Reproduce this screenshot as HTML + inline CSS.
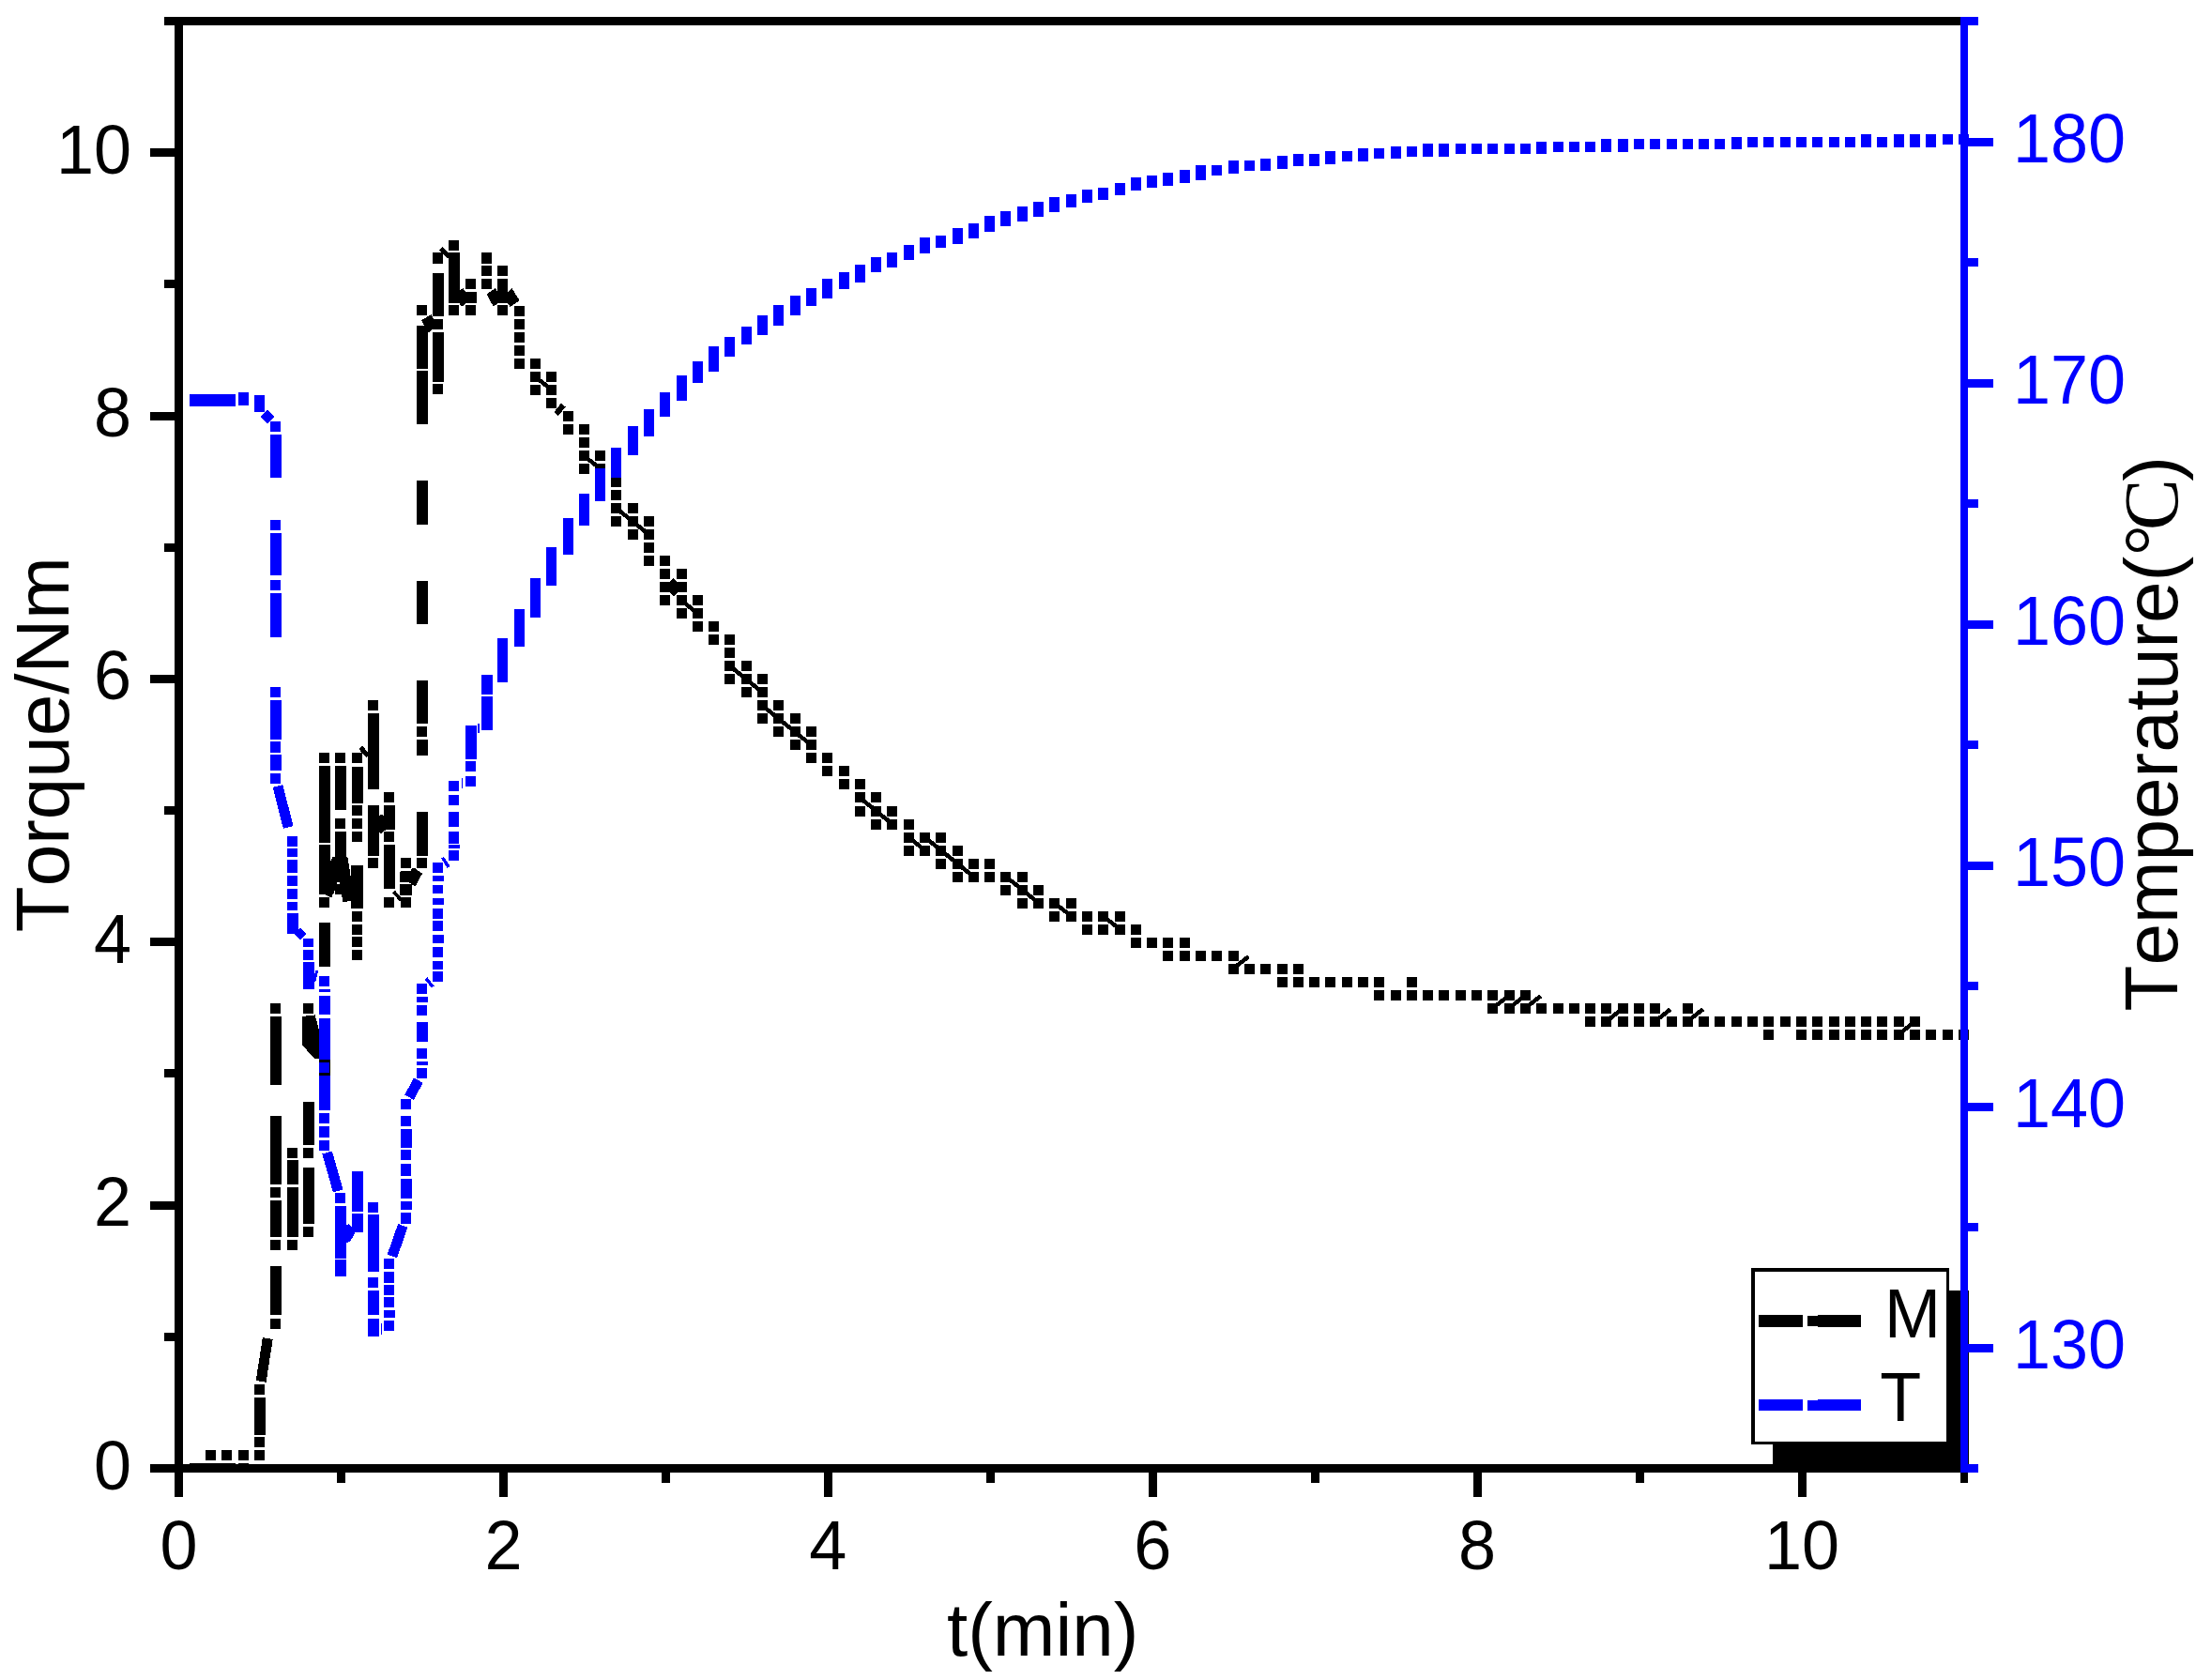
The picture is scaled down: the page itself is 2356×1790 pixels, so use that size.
<!DOCTYPE html>
<html lang="en"><head><meta charset="utf-8"><title>Torque and temperature vs time</title>
<style>html,body{margin:0;padding:0;background:#fff}svg{display:block}text{font-kerning:none}</style></head>
<body>
<svg width="2356" height="1790" viewBox="0 0 2356 1790" shape-rendering="crispEdges">
<rect width="2356" height="1790" fill="#fff"/>
<g id="axes-black"><rect x="175" y="18" width="1918" height="9" fill="#000"/><rect x="186" y="18" width="9" height="1577" fill="#000"/><rect x="160" y="1560" width="1937" height="9" fill="#000"/><rect x="175" y="1420" width="11" height="9" fill="#000"/><rect x="160" y="1280" width="26" height="9" fill="#000"/><rect x="175" y="1139" width="11" height="9" fill="#000"/><rect x="160" y="999" width="26" height="9" fill="#000"/><rect x="175" y="859" width="11" height="9" fill="#000"/><rect x="160" y="719" width="26" height="9" fill="#000"/><rect x="175" y="579" width="11" height="9" fill="#000"/><rect x="160" y="439" width="26" height="9" fill="#000"/><rect x="175" y="298" width="11" height="9" fill="#000"/><rect x="160" y="158" width="26" height="9" fill="#000"/><rect x="359" y="1569" width="9" height="11" fill="#000"/><rect x="532" y="1569" width="9" height="26" fill="#000"/><rect x="705" y="1569" width="9" height="11" fill="#000"/><rect x="878" y="1569" width="9" height="26" fill="#000"/><rect x="1051" y="1569" width="9" height="11" fill="#000"/><rect x="1224" y="1569" width="9" height="26" fill="#000"/><rect x="1397" y="1569" width="9" height="11" fill="#000"/><rect x="1570" y="1569" width="9" height="26" fill="#000"/><rect x="1743" y="1569" width="9" height="11" fill="#000"/><rect x="1916" y="1569" width="9" height="26" fill="#000"/><rect x="2089" y="1569" width="8" height="11" fill="#000"/></g>
<g id="curve-torque" fill="#000" color="#000"><rect x="202" y="1559" width="49" height="10"/><rect x="254" y="1559" width="11" height="10"/><rect x="219" y="1545" width="11" height="11"/><rect x="236" y="1545" width="11" height="11"/><rect x="254" y="1545" width="11" height="11"/><rect x="271" y="1545" width="11" height="11"/><rect x="271" y="1531" width="11" height="11"/><rect x="271" y="1489" width="12" height="40"/><rect x="271" y="1475" width="11" height="11"/><line x1="278.1" y1="1471.9" x2="285.3" y2="1426.1" stroke="currentColor" stroke-width="11"/><rect x="288" y="1265" width="11" height="11"/><rect x="288" y="1279" width="12" height="39"/><rect x="288" y="1321" width="11" height="11"/><rect x="288" y="1349" width="12" height="52"/><rect x="288" y="1405" width="11" height="11"/><rect x="306" y="1223" width="11" height="11"/><rect x="306" y="1236" width="12" height="26"/><rect x="306" y="1265" width="12" height="53"/><rect x="306" y="1321" width="11" height="11"/><rect x="323" y="1223" width="11" height="11"/><rect x="323" y="1244" width="12" height="60"/><rect x="323" y="1307" width="11" height="11"/><rect x="288" y="1069" width="11" height="11"/><rect x="288" y="1083" width="12" height="73"/><rect x="288" y="1189" width="12" height="73"/><rect x="323" y="1069" width="11" height="11"/><rect x="323" y="1174" width="12" height="46"/><polygon points="322,1082.9 335.6,1081.4 340.1,1097.7 340.1,1128.4 335.6,1128.4 322,1113.6"/><rect x="340" y="1087" width="12" height="63"/><rect x="340" y="983" width="12" height="47"/><rect x="375" y="1012" width="11" height="11"/><rect x="340" y="802" width="11" height="11"/><rect x="340" y="816" width="12" height="82"/><rect x="340" y="900" width="12" height="53"/><rect x="340" y="956" width="11" height="11"/><rect x="357" y="802" width="11" height="11"/><rect x="357" y="816" width="12" height="47"/><rect x="357" y="872" width="11" height="11"/><rect x="357" y="886" width="12" height="67"/><rect x="375" y="802" width="11" height="11"/><rect x="375" y="817" width="12" height="39"/><rect x="375" y="858" width="11" height="11"/><rect x="375" y="872" width="11" height="11"/><rect x="375" y="886" width="11" height="11"/><rect x="375" y="922" width="12" height="45"/><rect x="375" y="971" width="11" height="11"/><rect x="375" y="985" width="11" height="11"/><rect x="375" y="998" width="11" height="11"/><rect x="392" y="746" width="11" height="11"/><rect x="392" y="760" width="12" height="81"/><rect x="392" y="858" width="12" height="54"/><rect x="392" y="914" width="11" height="11"/><rect x="409" y="844" width="11" height="11"/><rect x="409" y="858" width="12" height="26"/><rect x="409" y="886" width="11" height="11"/><rect x="409" y="900" width="12" height="47"/><rect x="409" y="956" width="11" height="11"/><rect x="427" y="914" width="11" height="11"/><rect x="427" y="928" width="11" height="12"/><rect x="427" y="942" width="11" height="11"/><rect x="427" y="956" width="11" height="11"/><rect x="444" y="788" width="12" height="17"/><rect x="444" y="865" width="12" height="47"/><rect x="444" y="914" width="11" height="11"/><polygon points="351.4,919 353.2,915.7 354.1,913 369,912.4 370.8,914.2 371.1,919.9 372,920.5 372.6,927 373.2,927.6 373.3,933 374.3,933 374.3,959.8 370.2,959.8 369.9,960.8 365.1,960.8 365.1,956.2 364.2,955.9 363.9,952.9 357.1,952.9 357.1,949 356.2,948.8 355.9,951.4 355,952 353.8,955.6 352.3,956.1 345.8,952.9 351.4,952.9"/><rect x="374" y="922" width="13" height="46"/><polygon points="403.5,864.7 404,865.3 404,869.2 405.3,868 407.7,868 409,869.2 409.5,869.2 409.5,883.9 411,884.3 409,885.8 406.8,887.6 405.6,887.9 404,887 403.5,887"/><polygon points="426.1,929 427.1,928.1 438,928.1 438,926.4 439.3,925.2 441.9,925 450,930.7 442.9,943.8 441,943.8 438.1,941.9 435.7,939.8 426.1,939.8"/><rect x="426" y="942" width="13" height="12"/><line x1="384.2" y1="796.4" x2="392.3" y2="805.5" stroke="currentColor" stroke-width="5"/><line x1="419.4" y1="950.1" x2="427.6" y2="959" stroke="currentColor" stroke-width="4"/><rect x="444" y="725" width="12" height="46"/><rect x="444" y="774" width="11" height="11"/><rect x="444" y="512" width="12" height="47"/><rect x="444" y="619" width="12" height="46"/><rect x="444" y="395" width="12" height="57"/><rect x="444" y="325" width="11" height="11"/><rect x="444" y="347" width="12" height="46"/><rect x="461" y="269" width="11" height="12"/><rect x="461" y="291" width="12" height="46"/><rect x="461" y="340" width="11" height="11"/><rect x="461" y="354" width="12" height="53"/><rect x="461" y="409" width="11" height="11"/><rect x="478" y="256" width="11" height="11"/><rect x="478" y="269" width="12" height="54"/><rect x="478" y="325" width="11" height="11"/><rect x="496" y="297" width="11" height="11"/><rect x="496" y="311" width="11" height="12"/><rect x="496" y="325" width="11" height="11"/><rect x="513" y="269" width="11" height="12"/><rect x="513" y="283" width="11" height="11"/><rect x="513" y="297" width="11" height="11"/><rect x="530" y="283" width="11" height="11"/><rect x="530" y="297" width="11" height="14"/><rect x="530" y="311" width="11" height="12"/><rect x="530" y="325" width="11" height="11"/><polygon points="449.2,341.1 459.4,335 462.1,339.8 461.4,350.6 456,354.7 454.9,346.9 451.9,346.9"/><line x1="469.8" y1="264.9" x2="478.6" y2="273.7" stroke="currentColor" stroke-width="5"/><polygon points="489.2,309.9 493.3,307.2 496.7,311.3 507.5,311.3 507.5,322.8 496.7,322.8 491.9,326.9 489.2,322.8"/><polygon points="518.4,313.3 527.9,307.2 530.6,311.3 541.5,311.3 545.5,307.2 553.7,320.1 543.5,326.9 540.8,322.8 530.6,322.8 525.9,326.9"/><rect x="548" y="326" width="11" height="11"/><rect x="548" y="340" width="11" height="11"/><rect x="548" y="354" width="11" height="11"/><rect x="548" y="368" width="11" height="11"/><rect x="548" y="382" width="11" height="11"/><rect x="565" y="382" width="11" height="11"/><rect x="565" y="396" width="11" height="11"/><rect x="565" y="410" width="11" height="11"/><rect x="582" y="396" width="11" height="11"/><rect x="582" y="410" width="11" height="11"/><rect x="582" y="424" width="11" height="11"/><rect x="600" y="438" width="11" height="11"/><rect x="600" y="452" width="11" height="11"/><rect x="617" y="452" width="11" height="11"/><rect x="617" y="466" width="11" height="11"/><rect x="617" y="480" width="11" height="11"/><rect x="617" y="494" width="11" height="11"/><rect x="634" y="480" width="11" height="11"/><rect x="634" y="494" width="11" height="11"/><rect x="651" y="508" width="11" height="11"/><rect x="651" y="522" width="11" height="11"/><rect x="651" y="536" width="11" height="11"/><rect x="651" y="550" width="11" height="11"/><rect x="669" y="536" width="11" height="11"/><rect x="669" y="550" width="11" height="11"/><rect x="669" y="564" width="11" height="11"/><rect x="686" y="550" width="11" height="11"/><rect x="686" y="564" width="11" height="11"/><rect x="686" y="578" width="11" height="11"/><rect x="686" y="592" width="11" height="11"/><rect x="703" y="592" width="11" height="11"/><rect x="703" y="606" width="11" height="11"/><rect x="703" y="620" width="11" height="11"/><rect x="703" y="634" width="11" height="11"/><rect x="721" y="606" width="11" height="11"/><rect x="721" y="620" width="11" height="11"/><rect x="721" y="634" width="11" height="11"/><rect x="721" y="648" width="11" height="11"/><rect x="738" y="634" width="11" height="11"/><rect x="738" y="648" width="11" height="11"/><rect x="738" y="662" width="11" height="11"/><rect x="755" y="662" width="11" height="11"/><rect x="755" y="676" width="11" height="11"/><rect x="772" y="676" width="11" height="11"/><rect x="772" y="690" width="11" height="11"/><rect x="772" y="704" width="11" height="11"/><rect x="772" y="718" width="11" height="11"/><rect x="790" y="704" width="11" height="11"/><rect x="790" y="718" width="11" height="11"/><rect x="790" y="732" width="11" height="11"/><rect x="807" y="718" width="11" height="11"/><rect x="807" y="732" width="11" height="11"/><rect x="807" y="746" width="11" height="11"/><rect x="807" y="760" width="11" height="11"/><rect x="824" y="746" width="11" height="11"/><rect x="824" y="760" width="11" height="11"/><rect x="824" y="774" width="11" height="11"/><rect x="842" y="760" width="11" height="11"/><rect x="842" y="774" width="11" height="11"/><rect x="842" y="788" width="11" height="11"/><rect x="859" y="774" width="11" height="11"/><rect x="859" y="788" width="11" height="11"/><rect x="859" y="802" width="11" height="11"/><rect x="876" y="802" width="11" height="11"/><rect x="876" y="816" width="11" height="11"/><rect x="894" y="816" width="11" height="11"/><rect x="894" y="830" width="11" height="11"/><rect x="911" y="830" width="11" height="11"/><rect x="911" y="844" width="11" height="11"/><rect x="911" y="859" width="11" height="11"/><rect x="928" y="844" width="11" height="11"/><rect x="928" y="859" width="11" height="11"/><rect x="928" y="873" width="11" height="11"/><rect x="945" y="859" width="11" height="11"/><rect x="945" y="873" width="11" height="11"/><rect x="963" y="873" width="11" height="11"/><rect x="963" y="887" width="11" height="11"/><rect x="963" y="901" width="11" height="11"/><rect x="980" y="887" width="11" height="11"/><rect x="980" y="901" width="11" height="11"/><rect x="997" y="887" width="11" height="11"/><rect x="997" y="901" width="11" height="11"/><rect x="997" y="915" width="11" height="11"/><rect x="1015" y="901" width="11" height="11"/><rect x="1015" y="915" width="11" height="11"/><rect x="1015" y="929" width="11" height="11"/><rect x="1032" y="915" width="11" height="11"/><rect x="1032" y="929" width="11" height="11"/><rect x="1049" y="915" width="11" height="11"/><rect x="1049" y="929" width="11" height="11"/><rect x="1066" y="929" width="11" height="11"/><rect x="1066" y="943" width="11" height="11"/><rect x="1084" y="929" width="11" height="11"/><rect x="1084" y="943" width="11" height="11"/><rect x="1084" y="957" width="11" height="11"/><rect x="1101" y="943" width="11" height="11"/><rect x="1101" y="957" width="11" height="11"/><rect x="1118" y="957" width="11" height="11"/><rect x="1118" y="971" width="11" height="11"/><rect x="1136" y="957" width="11" height="11"/><rect x="1136" y="971" width="11" height="11"/><rect x="1153" y="971" width="11" height="11"/><rect x="1153" y="985" width="11" height="11"/><rect x="1170" y="971" width="11" height="11"/><rect x="1170" y="985" width="11" height="11"/><rect x="1188" y="971" width="11" height="11"/><rect x="1188" y="985" width="11" height="11"/><rect x="1205" y="985" width="11" height="11"/><rect x="1205" y="999" width="11" height="11"/><rect x="1222" y="999" width="11" height="11"/><rect x="1239" y="999" width="11" height="11"/><rect x="1239" y="1013" width="11" height="11"/><rect x="1257" y="999" width="11" height="11"/><rect x="1257" y="1013" width="11" height="11"/><rect x="1274" y="1013" width="11" height="11"/><rect x="1291" y="1013" width="11" height="11"/><rect x="1309" y="1013" width="11" height="11"/><rect x="1309" y="1027" width="11" height="11"/><rect x="1326" y="1027" width="11" height="11"/><rect x="1343" y="1027" width="11" height="11"/><rect x="1361" y="1027" width="11" height="11"/><rect x="1361" y="1041" width="11" height="11"/><rect x="1378" y="1027" width="11" height="11"/><rect x="1378" y="1041" width="11" height="11"/><rect x="1395" y="1041" width="11" height="11"/><rect x="1412" y="1041" width="11" height="11"/><rect x="1430" y="1041" width="11" height="11"/><rect x="1447" y="1041" width="11" height="11"/><rect x="1464" y="1041" width="11" height="11"/><rect x="1464" y="1055" width="11" height="11"/><rect x="1482" y="1055" width="11" height="11"/><rect x="1499" y="1041" width="11" height="11"/><rect x="1499" y="1055" width="11" height="11"/><rect x="1516" y="1055" width="11" height="11"/><rect x="1533" y="1055" width="11" height="11"/><rect x="1551" y="1055" width="11" height="11"/><rect x="1568" y="1055" width="11" height="11"/><rect x="1585" y="1055" width="11" height="11"/><rect x="1585" y="1069" width="11" height="11"/><rect x="1603" y="1055" width="11" height="11"/><rect x="1603" y="1069" width="11" height="11"/><rect x="1620" y="1055" width="11" height="11"/><rect x="1620" y="1069" width="11" height="11"/><rect x="1637" y="1069" width="11" height="11"/><rect x="1655" y="1069" width="11" height="11"/><rect x="1672" y="1069" width="11" height="11"/><rect x="1689" y="1069" width="11" height="11"/><rect x="1689" y="1083" width="11" height="11"/><rect x="1706" y="1069" width="11" height="11"/><rect x="1706" y="1083" width="11" height="11"/><rect x="1724" y="1069" width="11" height="11"/><rect x="1724" y="1083" width="11" height="11"/><rect x="1741" y="1069" width="11" height="11"/><rect x="1741" y="1083" width="11" height="11"/><rect x="1758" y="1069" width="11" height="11"/><rect x="1758" y="1083" width="11" height="11"/><rect x="1776" y="1083" width="11" height="11"/><rect x="1793" y="1069" width="11" height="11"/><rect x="1793" y="1083" width="11" height="11"/><rect x="1810" y="1083" width="11" height="11"/><rect x="1827" y="1083" width="11" height="11"/><rect x="1845" y="1083" width="11" height="11"/><rect x="1862" y="1083" width="11" height="11"/><rect x="1879" y="1083" width="11" height="11"/><rect x="1879" y="1097" width="11" height="11"/><rect x="1897" y="1083" width="11" height="11"/><rect x="1914" y="1083" width="11" height="11"/><rect x="1914" y="1097" width="11" height="11"/><rect x="1931" y="1083" width="11" height="11"/><rect x="1931" y="1097" width="11" height="11"/><rect x="1949" y="1083" width="11" height="11"/><rect x="1949" y="1097" width="11" height="11"/><rect x="1966" y="1083" width="11" height="11"/><rect x="1966" y="1097" width="11" height="11"/><rect x="1983" y="1083" width="11" height="11"/><rect x="1983" y="1097" width="11" height="11"/><rect x="2000" y="1083" width="11" height="11"/><rect x="2000" y="1097" width="11" height="11"/><rect x="2018" y="1083" width="11" height="11"/><rect x="2018" y="1097" width="11" height="11"/><rect x="2035" y="1083" width="11" height="11"/><rect x="2035" y="1097" width="11" height="11"/><rect x="2052" y="1097" width="11" height="11"/><rect x="2070" y="1097" width="11" height="11"/><rect x="2087" y="1097" width="11" height="11"/><line x1="571.4" y1="402.4" x2="586.7" y2="414.4" stroke="currentColor" stroke-width="4.5"/><line x1="623.3" y1="486.5" x2="638.6" y2="498.5" stroke="currentColor" stroke-width="4.5"/><line x1="657.9" y1="542.6" x2="673.2" y2="554.6" stroke="currentColor" stroke-width="4.5"/><line x1="675.2" y1="556.6" x2="690.5" y2="568.6" stroke="currentColor" stroke-width="4.5"/><line x1="727.1" y1="640.7" x2="742.4" y2="652.7" stroke="currentColor" stroke-width="4.5"/><line x1="779" y1="710.8" x2="794.3" y2="722.8" stroke="currentColor" stroke-width="4.5"/><line x1="796.3" y1="724.8" x2="811.6" y2="736.8" stroke="currentColor" stroke-width="4.5"/><line x1="813.6" y1="752.9" x2="828.9" y2="764.9" stroke="currentColor" stroke-width="4.5"/><line x1="830.9" y1="766.9" x2="846.2" y2="778.9" stroke="currentColor" stroke-width="4.5"/><line x1="848.2" y1="780.9" x2="863.5" y2="792.9" stroke="currentColor" stroke-width="4.5"/><line x1="917.3" y1="851" x2="932.6" y2="863" stroke="currentColor" stroke-width="4.5"/><line x1="934.6" y1="865" x2="949.9" y2="877" stroke="currentColor" stroke-width="4.5"/><line x1="969.2" y1="893" x2="984.5" y2="905.1" stroke="currentColor" stroke-width="4.5"/><line x1="986.5" y1="893" x2="1001.8" y2="905.1" stroke="currentColor" stroke-width="4.5"/><line x1="1003.8" y1="907.1" x2="1019.1" y2="919.1" stroke="currentColor" stroke-width="4.5"/><line x1="1021.1" y1="921.1" x2="1036.4" y2="933.1" stroke="currentColor" stroke-width="4.5"/><line x1="1073" y1="935.1" x2="1088.3" y2="947.1" stroke="currentColor" stroke-width="4.5"/><line x1="1090.3" y1="949.1" x2="1105.6" y2="961.1" stroke="currentColor" stroke-width="4.5"/><line x1="1124.9" y1="963.1" x2="1140.2" y2="975.1" stroke="currentColor" stroke-width="4.5"/><line x1="1176.8" y1="977.1" x2="1192.1" y2="989.2" stroke="currentColor" stroke-width="4.5"/><line x1="1591.8" y1="1073.3" x2="1607.1" y2="1061.3" stroke="currentColor" stroke-width="4.5"/><line x1="1609.1" y1="1073.3" x2="1624.4" y2="1061.3" stroke="currentColor" stroke-width="4.5"/><line x1="1626.4" y1="1073.3" x2="1641.7" y2="1061.3" stroke="currentColor" stroke-width="4.5"/><line x1="1712.9" y1="1087.3" x2="1728.2" y2="1075.3" stroke="currentColor" stroke-width="4.5"/><line x1="1764.8" y1="1087.3" x2="1780.1" y2="1075.3" stroke="currentColor" stroke-width="4.5"/><line x1="1799.4" y1="1087.3" x2="1814.7" y2="1075.3" stroke="currentColor" stroke-width="4.5"/><line x1="2024.2" y1="1101.3" x2="2039.5" y2="1089.3" stroke="currentColor" stroke-width="4.5"/><line x1="1315.1" y1="1031.2" x2="1330.4" y2="1019.2" stroke="currentColor" stroke-width="4.5"/><line x1="600.2" y1="431.6" x2="592.6" y2="441.1" stroke="currentColor" stroke-width="6"/><polygon points="712.9,620.6 717.4,616.1 722.8,620.6 722.8,630.6 718.3,635.5 712.9,630.6"/><rect x="359" y="940" width="3" height="2" fill="#fff"/></g>
<g id="curve-temperature" fill="#00f" color="#00f"><rect x="202" y="420" width="49" height="13"/><rect x="254" y="418" width="11" height="14"/><rect x="271" y="421" width="11" height="18"/><polygon points="285.3,436.5 293,444 285.3,451.5 277.6,444"/><rect x="288" y="449" width="11" height="11"/><rect x="288" y="463" width="12" height="46"/><rect x="288" y="554" width="11" height="11"/><rect x="288" y="568" width="12" height="45"/><rect x="288" y="618" width="11" height="11"/><rect x="288" y="632" width="12" height="47"/><rect x="288" y="732" width="11" height="11"/><rect x="288" y="746" width="12" height="42"/><rect x="288" y="790" width="11" height="12"/><rect x="288" y="804" width="12" height="17"/><rect x="288" y="824" width="11" height="11"/><line x1="296" y1="837.5" x2="307.2" y2="881.5" stroke="currentColor" stroke-width="11"/><rect x="306" y="891" width="11" height="11"/><rect x="306" y="904" width="11" height="9"/><rect x="306" y="916" width="11" height="14"/><rect x="306" y="933" width="11" height="11"/><rect x="306" y="947" width="11" height="11"/><rect x="306" y="961" width="11" height="9"/><rect x="306" y="973" width="12" height="22"/><polygon points="320.2,988.5 326.5,995 320.2,1001.5 314,995"/><rect x="323" y="1000" width="11" height="9"/><rect x="323" y="1012" width="11" height="11"/><rect x="323" y="1025" width="12" height="29"/><line x1="337.8" y1="1034" x2="334.7" y2="1046.1" stroke="currentColor" stroke-width="3"/><rect x="340" y="1040" width="11" height="11"/><rect x="340" y="1054" width="12" height="3"/><rect x="340" y="1061" width="12" height="20"/><rect x="340" y="1085" width="12" height="44"/><rect x="340" y="1132" width="11" height="11"/><rect x="340" y="1146" width="12" height="37"/><rect x="340" y="1186" width="11" height="11"/><rect x="340" y="1200" width="11" height="12"/><rect x="340" y="1215" width="11" height="11"/><line x1="348.6" y1="1228" x2="360.2" y2="1269" stroke="currentColor" stroke-width="11"/><rect x="357" y="1271" width="11" height="11"/><rect x="357" y="1285" width="12" height="56"/><rect x="357" y="1342" width="12" height="18"/><polygon points="368.2,1305.8 371.8,1304 379,1312.2 373.6,1322.1 368.2,1324.8"/><rect x="375" y="1248" width="12" height="43"/><rect x="375" y="1293" width="12" height="20"/><rect x="392" y="1281" width="11" height="11"/><rect x="392" y="1294" width="12" height="61"/><rect x="392" y="1361" width="11" height="11"/><rect x="392" y="1375" width="12" height="26"/><rect x="392" y="1405" width="12" height="19"/><line x1="406.5" y1="1409.9" x2="406.5" y2="1421.6" stroke="currentColor" stroke-width="1.2"/><rect x="409" y="1341" width="11" height="11"/><rect x="409" y="1355" width="11" height="12"/><rect x="409" y="1369" width="11" height="11"/><rect x="409" y="1382" width="11" height="11"/><rect x="409" y="1396" width="12" height="8"/><rect x="409" y="1407" width="11" height="11"/><line x1="429.3" y1="1305.8" x2="417.9" y2="1338.4" stroke="currentColor" stroke-width="11"/><rect x="427" y="1203" width="12" height="20"/><rect x="427" y="1225" width="11" height="11"/><rect x="427" y="1240" width="11" height="13"/><rect x="427" y="1256" width="12" height="21"/><rect x="427" y="1281" width="12" height="8"/><rect x="427" y="1292" width="11" height="11"/><rect x="427" y="1171" width="11" height="11"/><rect x="427" y="1189" width="11" height="11"/><rect x="427" y="1203" width="12" height="20"/><rect x="427" y="1225" width="11" height="11"/><rect x="427" y="1240" width="11" height="13"/><rect x="427" y="1256" width="12" height="21"/><rect x="427" y="1280" width="12" height="9"/><rect x="427" y="1292" width="11" height="12"/><line x1="445.9" y1="1151.1" x2="436" y2="1169.2" stroke="currentColor" stroke-width="11"/><rect x="444" y="1048" width="11" height="11"/><rect x="444" y="1062" width="12" height="6"/><rect x="444" y="1071" width="11" height="11"/><rect x="444" y="1089" width="12" height="21"/><rect x="444" y="1117" width="11" height="11"/><rect x="444" y="1131" width="12" height="4"/><rect x="444" y="1138" width="11" height="11"/><line x1="454.1" y1="1042.5" x2="461.3" y2="1051.6" stroke="currentColor" stroke-width="3.5"/><rect x="461" y="1000" width="12" height="5"/><rect x="461" y="1009" width="11" height="11"/><rect x="461" y="1024" width="11" height="9"/><rect x="461" y="1035" width="11" height="11"/><rect x="461" y="919" width="11" height="11"/><rect x="461" y="933" width="12" height="6"/><rect x="461" y="943" width="11" height="9"/><rect x="461" y="957" width="12" height="7"/><rect x="461" y="968" width="11" height="11"/><rect x="461" y="981" width="11" height="11"/><rect x="461" y="996" width="12" height="4"/><line x1="471.6" y1="913.8" x2="478.1" y2="924" stroke="currentColor" stroke-width="3.5"/><rect x="478" y="832" width="11" height="11"/><rect x="478" y="847" width="11" height="11"/><rect x="478" y="865" width="11" height="16"/><rect x="478" y="886" width="11" height="13"/><rect x="478" y="900" width="12" height="4"/><rect x="478" y="906" width="11" height="11"/><line x1="492.4" y1="829.4" x2="492.4" y2="840.2" stroke="currentColor" stroke-width="1.2"/><rect x="496" y="773" width="12" height="36"/><rect x="496" y="811" width="11" height="11"/><rect x="496" y="827" width="11" height="11"/><line x1="510" y1="770.6" x2="510" y2="781.4" stroke="currentColor" stroke-width="1.5"/><rect x="513" y="719" width="12" height="21"/><rect x="513" y="742" width="12" height="36"/><rect x="530" y="680" width="11" height="47"/><rect x="548" y="649" width="11" height="40"/><rect x="565" y="616" width="11" height="42"/><rect x="582" y="583" width="11" height="41"/><rect x="600" y="552" width="11" height="39"/><rect x="617" y="526" width="11" height="34"/><rect x="634" y="499" width="11" height="35"/><rect x="651" y="477" width="11" height="32"/><rect x="669" y="454" width="11" height="31"/><rect x="686" y="436" width="11" height="29"/><rect x="703" y="418" width="11" height="26"/><rect x="721" y="400" width="11" height="27"/><rect x="738" y="385" width="11" height="23"/><rect x="755" y="369" width="11" height="27"/><rect x="772" y="359" width="11" height="21"/><rect x="790" y="348" width="11" height="19"/><rect x="807" y="336" width="11" height="21"/><rect x="824" y="325" width="11" height="22"/><rect x="842" y="315" width="11" height="21"/><rect x="859" y="307" width="11" height="19"/><rect x="876" y="297" width="11" height="21"/><rect x="894" y="290" width="11" height="18"/><rect x="911" y="282" width="11" height="19"/><rect x="928" y="274" width="11" height="16"/><rect x="945" y="269" width="11" height="16"/><rect x="963" y="261" width="11" height="16"/><rect x="980" y="253" width="11" height="17"/><rect x="997" y="251" width="11" height="13"/><rect x="1015" y="243" width="11" height="17"/><rect x="1032" y="238" width="11" height="16"/><rect x="1049" y="230" width="11" height="17"/><rect x="1066" y="225" width="11" height="16"/><rect x="1084" y="220" width="11" height="16"/><rect x="1101" y="215" width="11" height="16"/><rect x="1118" y="210" width="11" height="16"/><rect x="1136" y="207" width="11" height="14"/><rect x="1153" y="202" width="11" height="14"/><rect x="1170" y="200" width="11" height="13"/><rect x="1188" y="195" width="11" height="13"/><rect x="1205" y="189" width="11" height="14"/><rect x="1222" y="187" width="11" height="13"/><rect x="1239" y="184" width="11" height="14"/><rect x="1257" y="181" width="11" height="14"/><rect x="1274" y="176" width="11" height="16"/><rect x="1291" y="176" width="11" height="11"/><rect x="1309" y="171" width="11" height="14"/><rect x="1326" y="171" width="11" height="11"/><rect x="1343" y="169" width="11" height="13"/><rect x="1361" y="166" width="11" height="14"/><rect x="1378" y="164" width="11" height="13"/><rect x="1395" y="164" width="11" height="13"/><rect x="1412" y="161" width="11" height="14"/><rect x="1430" y="161" width="11" height="11"/><rect x="1447" y="158" width="11" height="14"/><rect x="1464" y="158" width="11" height="11"/><rect x="1482" y="156" width="11" height="13"/><rect x="1499" y="156" width="11" height="11"/><rect x="1516" y="153" width="11" height="14"/><rect x="1533" y="153" width="11" height="14"/><rect x="1551" y="153" width="11" height="11"/><rect x="1568" y="153" width="11" height="11"/><rect x="1585" y="153" width="11" height="11"/><rect x="1603" y="153" width="11" height="11"/><rect x="1620" y="153" width="11" height="11"/><rect x="1637" y="151" width="11" height="13"/><rect x="1655" y="151" width="11" height="11"/><rect x="1672" y="151" width="11" height="11"/><rect x="1689" y="151" width="11" height="11"/><rect x="1706" y="148" width="11" height="14"/><rect x="1724" y="148" width="11" height="14"/><rect x="1741" y="148" width="11" height="11"/><rect x="1758" y="148" width="11" height="11"/><rect x="1776" y="148" width="11" height="11"/><rect x="1793" y="148" width="11" height="11"/><rect x="1810" y="148" width="11" height="11"/><rect x="1827" y="148" width="11" height="11"/><rect x="1845" y="146" width="11" height="13"/><rect x="1862" y="146" width="11" height="11"/><rect x="1879" y="146" width="11" height="11"/><rect x="1897" y="146" width="11" height="11"/><rect x="1914" y="146" width="11" height="11"/><rect x="1931" y="146" width="11" height="11"/><rect x="1949" y="146" width="11" height="11"/><rect x="1966" y="146" width="11" height="11"/><rect x="1983" y="143" width="11" height="14"/><rect x="2000" y="146" width="11" height="11"/><rect x="2018" y="143" width="11" height="14"/><rect x="2035" y="143" width="11" height="14"/><rect x="2052" y="143" width="11" height="14"/><rect x="2070" y="143" width="11" height="11"/><rect x="2087" y="143" width="11" height="11"/></g>
<g id="legend"><rect x="1889" y="1375" width="209" height="187" fill="#000"/><rect x="1867.75" y="1352.75" width="207.5" height="184.5" fill="#fff" stroke="#000" stroke-width="3.5"/><rect x="1874" y="1401" width="47" height="13" fill="#000"/><rect x="1926" y="1402" width="11" height="11" fill="#000"/><rect x="1937" y="1401" width="46" height="13" fill="#000"/><rect x="1874" y="1491" width="47" height="12" fill="#00f"/><rect x="1926" y="1492" width="11" height="11" fill="#00f"/><rect x="1937" y="1491" width="46" height="12" fill="#00f"/><g font-family="'Liberation Sans', Arial, sans-serif" font-size="72" fill="#000" shape-rendering="auto"><text transform="translate(2008 1424.5) scale(1 1.04)">M</text><text transform="translate(2003.3 1513.5) scale(1 1.04)">T</text></g></g>
<g id="axis-blue" fill="#00f"><rect x="2089" y="18" width="8" height="1551"/><rect x="2093" y="18" width="15" height="9"/><rect x="2093" y="1560" width="15" height="9"/><rect x="2097" y="1432" width="27" height="9"/><rect x="2097" y="1303" width="11" height="9"/><rect x="2097" y="1175" width="27" height="9"/><rect x="2097" y="1046" width="11" height="9"/><rect x="2097" y="918" width="27" height="9"/><rect x="2097" y="789" width="11" height="9"/><rect x="2097" y="661" width="27" height="9"/><rect x="2097" y="532" width="11" height="9"/><rect x="2097" y="404" width="27" height="9"/><rect x="2097" y="275" width="11" height="9"/><rect x="2097" y="147" width="27" height="9"/></g>
<g font-family="'Liberation Sans', Arial, sans-serif" font-size="72" fill="#000" shape-rendering="auto"><text transform="translate(140 1586.5) scale(1 1.04)" text-anchor="end">0</text><text transform="translate(140 1306.1) scale(1 1.04)" text-anchor="end">2</text><text transform="translate(140 1025.8) scale(1 1.04)" text-anchor="end">4</text><text transform="translate(140 745.4) scale(1 1.04)" text-anchor="end">6</text><text transform="translate(140 465.1) scale(1 1.04)" text-anchor="end">8</text><text transform="translate(140 184.7) scale(1 1.04)" text-anchor="end">10</text><text transform="translate(190.5 1672) scale(1 1.04)" text-anchor="middle">0</text><text transform="translate(536.4 1672) scale(1 1.04)" text-anchor="middle">2</text><text transform="translate(882.3 1672) scale(1 1.04)" text-anchor="middle">4</text><text transform="translate(1228.2 1672) scale(1 1.04)" text-anchor="middle">6</text><text transform="translate(1574.1 1672) scale(1 1.04)" text-anchor="middle">8</text><text transform="translate(1920 1672) scale(1 1.04)" text-anchor="middle">10</text></g>
<g font-family="'Liberation Sans', Arial, sans-serif" font-size="72" fill="#00f" shape-rendering="auto"><text transform="translate(2145 1458) scale(1 1.04)">130</text><text transform="translate(2145 1201) scale(1 1.04)">140</text><text transform="translate(2145 944) scale(1 1.04)">150</text><text transform="translate(2145 687) scale(1 1.04)">160</text><text transform="translate(2145 430) scale(1 1.04)">170</text><text transform="translate(2145 173) scale(1 1.04)">180</text></g>
<g font-family="'Liberation Sans', Arial, sans-serif" font-size="80" fill="#000" shape-rendering="auto"><text x="1009" y="1764">t(min)</text><text transform="translate(72.6 993.2) rotate(-90)">Torque/Nm</text><text transform="translate(2319.5 1077.4) rotate(-90)">Temperature(<tspan font-family="'Liberation Serif', 'Noto Serif CJK SC', serif" font-size="82" dx="0.7">°</tspan><tspan font-family="'Liberation Serif', 'Noto Serif CJK SC', serif" font-size="82" dx="-5.7">C</tspan><tspan dx="-2.5">)</tspan></text></g>
</svg>
</body></html>
